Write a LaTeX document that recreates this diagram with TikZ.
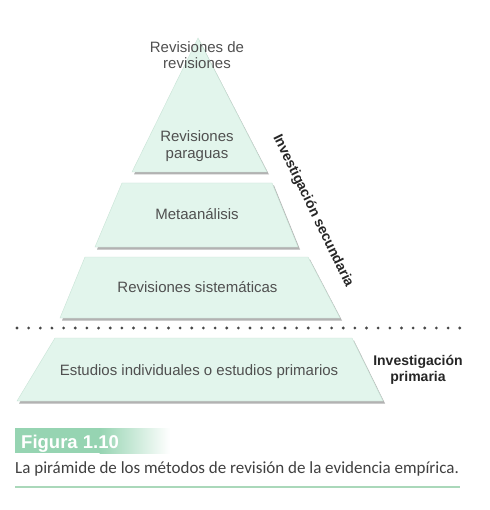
\documentclass[tikz,border=0pt]{standalone}
\usepackage{fontspec}
\setmainfont{Liberation Sans}
\newfontfamily\capfont{Carlito}
\begin{document}
\begin{tikzpicture}[x=1pt,y=-1pt,
  lvl/.style={fill=mint, draw=mintedge, line width=0.4pt},
  shad/.style={fill=black!30, draw=none},
  lab/.style={text=labgray, font=\fontsize{15}{16.5}\selectfont, align=center, inner sep=0pt},
  blab/.style={text=black!85, font=\fontsize{14}{16.5}\selectfont\bfseries, align=center, inner sep=0pt}]
\definecolor{mint}{RGB}{226,245,236}
\definecolor{mintedge}{RGB}{200,228,214}
\definecolor{labgray}{RGB}{80,80,80}
\definecolor{figgreen}{RGB}{150,212,178}
\definecolor{capline}{RGB}{170,216,186}
\useasboundingbox[fill=white] (0,0) rectangle (489,510);
% shadows
\fill[shad] (199.5,40.5) -- (269,174.5) -- (134,174.5) -- cycle;
\fill[shad] (124,185.5) -- (274,185.5) -- (300,249.5) -- (97,249.5) -- cycle;
\fill[shad] (87,259.5) -- (310,259.5) -- (342,320.5) -- (62,320.5) -- cycle;
\fill[shad] (57,340.5) -- (354,340.5) -- (385,403.5) -- (19,403.5) -- cycle;
% levels
\path[lvl] (198,38) -- (267,172) -- (132,172) -- cycle;
\path[lvl] (122,183) -- (272,183) -- (298,247) -- (95,247) -- cycle;
\path[lvl] (85,257) -- (308,257) -- (340,318) -- (60,318) -- cycle;
\path[lvl] (55,338) -- (352,338) -- (383,401) -- (17,401) -- cycle;
% dotted separator
\coordinate (d1) at (17,328);
\coordinate (d2) at (460,328);
\draw[line width=3.1pt, line cap=round, dash pattern=on 0pt off 11.65pt, black!72] (d1) -- (d2);
% labels
\node[lab] (rr) at (197,55) {Revisiones de\\revisiones};
\node[lab] (rp) at (197,146) {Revisiones\\paraguas};
\node[lab, anchor=base] (ma) at (197,220) {Metaanálisis};
\node[lab, anchor=base] (rs) at (197.5,292) {Revisiones sistemáticas};
\node[lab, anchor=base] (ei) at (199,375) {Estudios individuales o estudios primarios};
\node[blab] (ip) at (418,370) {Investigación\\primaria};
\node[blab, rotate=-64] (is) at (313,211) {Investigación secundaria};
% caption
\fill[figgreen] (15,428) rectangle (100,453);
\shade[left color=figgreen, right color=white] (99.5,428) rectangle (170,453);
\node[anchor=base west, text=white, font=\fontsize{18.5}{20}\selectfont\bfseries, inner sep=0pt] (fig) at (21,448) {Figura 1.10};
\node[anchor=base west, text=black!75, font=\capfont\fontsize{17}{20}\selectfont, inner sep=0pt] (cap) at (15,473) {La pirámide de los métodos de revisión de la evidencia empírica.};
\coordinate (l1) at (15,487);
\coordinate (l2) at (460,487);
\draw[capline, line width=1.4pt] (l1) -- (l2);
\end{tikzpicture}
\end{document}
